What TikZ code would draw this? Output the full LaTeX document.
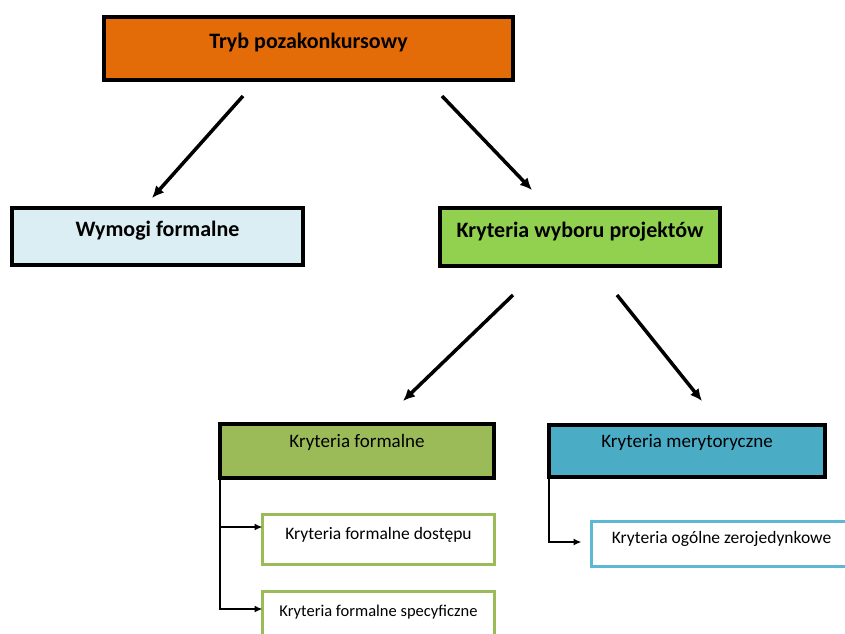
\documentclass[tikz,border=0pt]{standalone}
\usepackage{fontspec}
\setmainfont{Carlito}
\usepackage{tikz}
\usetikzlibrary{positioning,arrows.meta,shadows}
\definecolor{trybcol}{HTML}{E36C09}
\definecolor{wymcol}{HTML}{DBEEF4}
\definecolor{wybcol}{HTML}{92D050}
\definecolor{formcol}{HTML}{9BBB59}
\definecolor{merycol}{HTML}{4BACC6}
\definecolor{merylinecol}{HTML}{5DB9D3}
\tikzset{
    mainbox/.style={
        rectangle,
        draw=black,
        line width=4pt,
        outer sep=0pt,
        inner ysep=0pt,
        drop shadow={shadow xshift=2pt, shadow yshift=-2pt, opacity=0.3}
    },
    subbox/.style={
        rectangle,
        draw,
        fill=white,
        line width=3pt,
        outer sep=0pt,
        inner ysep=0pt,
        font=\fontsize{17.5}{20}\selectfont
    },
    arrow/.style={-{Latex[length=12pt,width=11pt]}, line width=3.5pt},
    linkarrow/.style={-{Latex[length=8pt,width=7pt]}, line width=2pt}
}
\begin{document}
\begin{tikzpicture}[x=1pt,y=-1pt]
    \useasboundingbox[fill=white] (0,0) rectangle (845,633);

    % top level
    \node[mainbox, fill=trybcol, minimum width=409, text height=31.5, text depth=31.5,
          font=\bfseries\fontsize{22}{26}\selectfont] (tryb) at (308.5,48.5) {Tryb pozakonkursowy};

    % second level
    \node[mainbox, fill=wymcol, minimum width=291, text height=28.5, text depth=28.5,
          font=\bfseries\fontsize{22}{26}\selectfont] (wymogi) at (157.5,236.5) {Wymogi formalne};
    \node[mainbox, fill=wybcol, minimum width=280, text height=29, text depth=29,
          font=\bfseries\fontsize{22}{26}\selectfont] (wybor) at (580,237) {Kryteria wyboru projektów};

    % third level
    \node[mainbox, fill=formcol, minimum width=274, text height=23, text depth=31,
          font=\fontsize{19}{22}\selectfont] (formalne) at (357,451) {Kryteria formalne};
    \node[mainbox, fill=merycol, minimum width=276, text height=22, text depth=30,
          font=\fontsize{19}{22}\selectfont] (meryt) at (687,451) {Kryteria merytoryczne};

    % leaves
    \node[subbox, draw=formcol, minimum width=232, text height=25, text depth=25] (dostep) at (378.5,539.5) {Kryteria formalne dostępu};
    \node[subbox, draw=formcol, minimum width=232, text height=25, text depth=25,
          font=\fontsize{16.5}{19}\selectfont] (specyf) at (378.5,616.5) {Kryteria formalne specyficzne};
    \node[subbox, draw=merylinecol, minimum width=260, text height=22.5, text depth=22.5] (zeroj) at (721.5,543.5) {Kryteria ogólne zerojedynkowe};

    % free ends of the diagonal arrows
    \coordinate (t1) at (243,96);
    \coordinate (h1) at (152,198);
    \coordinate (t2) at (442,96);
    \coordinate (h2) at (532,190);
    \coordinate (t3) at (513,295);
    \coordinate (h3) at (403,401);
    \coordinate (t4) at (617,295);
    \coordinate (h4) at (702,401);

    \draw[arrow] (t1) -- (h1);
    \draw[arrow] (t2) -- (h2);
    \draw[arrow] (t3) -- (h3);
    \draw[arrow] (t4) -- (h4);

    % tree links
    \draw[linkarrow] (formalne.south west) |- ([yshift=12.5pt]dostep.west);
    \draw[linkarrow] (formalne.south west) |- ([yshift=7.5pt]specyf.west);
    \draw[linkarrow] (meryt.south west) |- ([xshift=-10pt, yshift=1.5pt]zeroj.west);
\end{tikzpicture}
\end{document}
